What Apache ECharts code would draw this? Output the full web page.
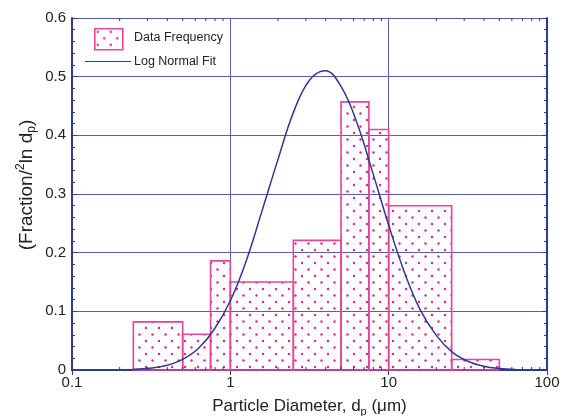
<!DOCTYPE html>
<html><head><meta charset="utf-8">
<script src="https://cdn.jsdelivr.net/npm/echarts@6/dist/echarts.min.js"></script>
<style>html,body{margin:0;padding:0;background:#fff}#c{width:576px;height:416px}</style>
</head><body><div id="c"></div><script>
// Histogram bins (particle diameter, µm)
const binLow = [0.244, 0.5, 0.75, 1, 2.5, 5, 7.5, 10, 25];
const binHigh = [0.5, 0.75, 1, 2.5, 5, 7.5, 10, 25, 50];
const binFreq = [0.082, 0.061, 0.186, 0.150, 0.221, 0.457, 0.410, 0.280, 0.018];
// Log normal fit curve
const fitX = [0.24,0.32,0.4,0.5,0.63,0.79,1,1.26,1.58,2,2.51,3.16,3.98,5.01,6.31,7.94,10,12.6,15.8,20,25.1,31.6,39.8,50.1,63.1];
const fitY = [0.001,0.0033,0.0081,0.018,0.037,0.069,0.118,0.186,0.270,0.359,0.440,0.494,0.510,0.483,0.421,0.336,0.247,0.166,0.103,0.059,0.031,0.015,0.0065,0.0026,0.001];
// Minor log ticks
const xMinorTicks = [0.2,0.3,0.4,0.5,0.6,0.7,0.8,0.9,2,3,4,5,6,7,8,9,20,30,40,50,60,70,80,90];
const seriesNames = ['Data Frequency', 'Log Normal Fit'];

const PINK = '#e5238a', PINK_EDGE = '#e8449a', NAVY = '#2c3a8f', GRID = '#5560aa';
const FONT = 'Liberation Sans, Arial, sans-serif';

function dotPattern(withBg) {
  const c = document.createElement('canvas');
  c.width = 13; c.height = 13;
  const g = c.getContext('2d');
  if (withBg) { g.fillStyle = '#fff'; g.fillRect(0,0,13,13); }
  g.fillStyle = PINK;
  g.beginPath(); g.arc(3, 3, 1.2, 0, Math.PI*2); g.fill();
  g.beginPath(); g.arc(9.5, 9.5, 1.2, 0, Math.PI*2); g.fill();
  return { image: c, repeat: 'repeat' };
}
const pattern = dotPattern(false);

const chart = echarts.init(document.getElementById('c'));
const barData = binLow.map((v, i) => [v, binHigh[i], binFreq[i]]);
const fitData = fitX.map((v, i) => [v, fitY[i]]);

chart.setOption({
  animation: false,
  textStyle: { fontFamily: FONT },
  grid: { left: 72, right: 29, top: 18, bottom: 46, containLabel: false, outerBoundsMode: 'none' },
  xAxis: [{
    type: 'log', logBase: 10, min: 0.1, max: 100, position: 'bottom',
    name: 'Particle Diameter, d{sub|p} (\u03bcm)', nameLocation: 'middle', nameGap: 26,
    nameTextStyle: { fontSize: 17, color: '#222', fontFamily: FONT,
      rich: { sub: { fontSize: 11, color: '#222', padding: [10, 0, 0, 0], fontFamily: FONT } } },
    axisLine: { show: true, lineStyle: { color: NAVY, width: 2 } },
    axisTick: { show: true, inside: true, length: 5, lineStyle: { color: NAVY } },
    axisLabel: { fontSize: 15, color: '#222', margin: 5, fontFamily: FONT,
      formatter: v => (v < 1 ? String(v) : String(Math.round(v))) },
    splitLine: { show: true, lineStyle: { color: GRID, width: 1 } }
  }, {
    type: 'log', logBase: 10, min: 0.1, max: 100, position: 'top',
    axisLine: { show: true, lineStyle: { color: NAVY, width: 2 } },
    axisTick: { show: true, inside: true, length: 5, lineStyle: { color: NAVY } },
    axisLabel: { show: false }, splitLine: { show: false }
  }],
  yAxis: [{
    type: 'value', min: 0, max: 0.6, interval: 0.1, position: 'left',
    name: '(Fraction/{sup|2}ln d{sub|p})', nameLocation: 'middle', nameGap: 34, nameRotate: 90,
    nameMoveOverlap: false,
    nameTextStyle: { fontSize: 19, color: '#222', fontFamily: FONT, padding: [0, 0, 0, 18],
      rich: {
        sup: { fontSize: 12, color: '#222', padding: [0, 0, 11, 0], fontFamily: FONT },
        sub: { fontSize: 12, color: '#222', padding: [11, 0, 0, 0], fontFamily: FONT }
      } },
    axisLine: { show: true, lineStyle: { color: NAVY, width: 2 } },
    axisTick: { show: true, inside: true, length: 5, lineStyle: { color: NAVY } },
    minorTick: { show: true, splitNumber: 5, length: 3, lineStyle: { color: NAVY } },
    axisLabel: { fontSize: 15, color: '#222', margin: 6, fontFamily: FONT,
      formatter: v => (v === 0 ? '0' : v.toFixed(1)) },
    splitLine: { show: true, lineStyle: { color: GRID, width: 1 } }
  }, {
    type: 'value', min: 0, max: 0.6, interval: 0.1, position: 'right',
    axisLine: { show: true, lineStyle: { color: NAVY, width: 2 } },
    axisTick: { show: true, inside: true, length: 5, lineStyle: { color: NAVY } },
    minorTick: { show: true, splitNumber: 5, length: 3, lineStyle: { color: NAVY } },
    axisLabel: { show: false }, splitLine: { show: false }
  }],
  series: [{
    name: seriesNames[0], type: 'custom', xAxisIndex: 0, yAxisIndex: 0, z: 2,
    data: barData,
    encode: { x: [0, 1], y: 2 },
    renderItem: function (params, api) {
      const p0 = api.coord([api.value(0), api.value(2)]);
      const p1 = api.coord([api.value(1), 0]);
      return {
        type: 'rect',
        shape: { x: p0[0], y: p0[1], width: p1[0] - p0[0], height: p1[1] - p0[1] },
        style: { fill: pattern, stroke: PINK_EDGE, lineWidth: 1.6 }
      };
    }
  }, {
    name: seriesNames[1], type: 'line', xAxisIndex: 0, yAxisIndex: 0, z: 3,
    data: fitData, smooth: 0.4, symbol: 'none',
    lineStyle: { color: NAVY, width: 1.5 }
  }, {
    type: 'custom', xAxisIndex: 0, yAxisIndex: 0, z: 4, silent: true,
    data: xMinorTicks.map(v => [v]),
    encode: { x: 0 },
    renderItem: function (params, api) {
      const b = api.coord([api.value(0), 0]);
      const t = api.coord([api.value(0), 0.6]);
      return { type: 'group', children: [
        { type: 'line', shape: { x1: b[0], y1: b[1], x2: b[0], y2: b[1] - 3 }, style: { stroke: NAVY, lineWidth: 1 } },
        { type: 'line', shape: { x1: t[0], y1: t[1], x2: t[0], y2: t[1] + 3 }, style: { stroke: NAVY, lineWidth: 1 } }
      ] };
    }
  }],
  graphic: [
    { type: 'rect', left: 94, top: 28, shape: { width: 28, height: 21 }, z: 10,
      style: { fill: dotPattern(true), stroke: PINK_EDGE, lineWidth: 1.6 } },
    { type: 'text', left: 134, top: 31, z: 10,
      style: { text: seriesNames[0], font: '12.5px ' + FONT, fill: '#222' } },
    { type: 'line', z: 10, shape: { x1: 85, y1: 61.5, x2: 131, y2: 61.5 }, style: { stroke: NAVY, lineWidth: 1.2 } },
    { type: 'text', left: 134, top: 55, z: 10,
      style: { text: seriesNames[1], font: '12.5px ' + FONT, fill: '#222' } }
  ]
});
</script></body></html>
